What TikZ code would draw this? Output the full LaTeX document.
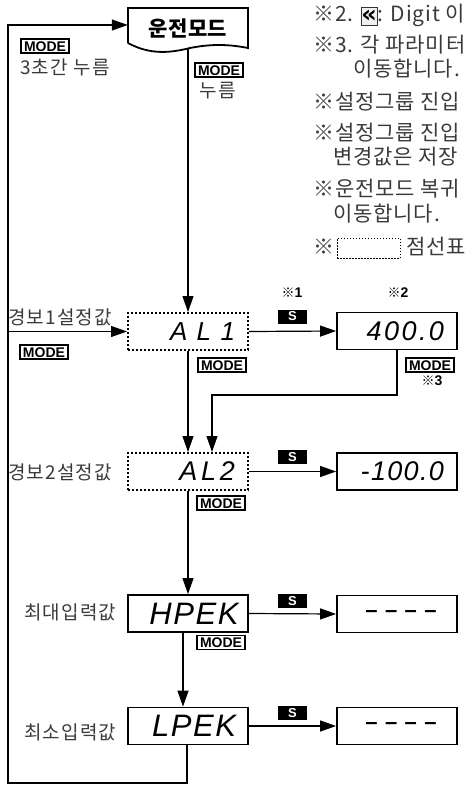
\documentclass[tikz,border=0pt]{standalone}
\usepackage{fontspec}
\usetikzlibrary{arrows.meta}
\newfontfamily\krfont{Noto Sans CJK KR}[LetterSpace=6]
\newfontfamily\krwide{Noto Sans CJK KR}[LetterSpace=4]
\newfontfamily\krbold{Noto Sans CJK KR}[LetterSpace=2]
\newfontfamily\libfont{Liberation Sans}
\newfontfamily\segA{Liberation Sans}[LetterSpace=36]
\newfontfamily\segB{Liberation Sans}[LetterSpace=9]
\newfontfamily\segC{Liberation Sans}[LetterSpace=5]
\newfontfamily\segD{Liberation Sans}[LetterSpace=34]
\newfontfamily\segE{Liberation Sans}[LetterSpace=14]
\newfontfamily\symfont{DejaVu Sans}
\definecolor{txtgray}{HTML}{3A3A3A}
\newcommand{\keyico}{\tikz[baseline=-5pt]\node[draw=black!80,fill=black!6,line width=0.9pt,minimum width=16pt,minimum height=18pt,inner sep=0pt,text=black,font=\symfont\bfseries\fontsize{24}{24}\selectfont] (keyicon) {\raisebox{-1pt}{«}};}
\begin{document}
\begin{tikzpicture}[x=1pt,y=-1pt,
  every node/.style={inner sep=0pt},
  conn/.style={line width=1.2pt,line join=miter},
  arr/.style={conn,-{Triangle[length=16pt,width=11pt]}},
  dispbox/.style={draw,line width=1.8pt,minimum width=120pt,minimum height=37pt},
  dotbox/.style={dispbox,line width=2pt,dash pattern=on 2pt off 2pt},
  rseg/.style={text width=94pt,inner xsep=13pt,align=right},
  modebox/.style={draw,line width=1.1pt,inner xsep=3pt,inner ysep=2pt,text height=10pt,text depth=0pt,
    font=\libfont\bfseries\fontsize{14}{14}\selectfont},
  sbox/.style={fill=black,text=white,minimum width=29pt,minimum height=14pt,
    font=\libfont\bfseries\fontsize{13}{13}\selectfont},
  lbl/.style={font=\krfont\fontsize{19}{22}\selectfont,text=txtgray},
  note/.style={font=\libfont\bfseries\fontsize{14}{14}\selectfont},
  rtxt/.style={font=\krwide\fontsize{21}{24}\selectfont,text=txtgray,anchor=west}]
\useasboundingbox (0,0) rectangle (467,785);

% operation mode box
\node[font=\krbold\bfseries\fontsize{21}{21}\selectfont,minimum width=120pt,minimum height=40pt] (opmode) at (188,28) {운전모드};
\draw[line width=1.8pt,line join=miter] (128,43) -- (128,8) -- (248,8) -- (248,48)
  .. controls (228,44) and (210,44) .. (190,48) .. controls (170,53) and (150,55) .. (128,43);
\node[modebox] (m0) at (45,46) {MODE};
\node[lbl,anchor=west] (t3s) at (20,67) {3초간 누름};
\node[modebox] (m0b) at (219,70) {MODE};
\node[lbl] (tpress) at (218,91) {누름};

% row 1
\node[dotbox,rseg,font=\segA\itshape\fontsize{26}{26}\selectfont] (al1) at (188,331.5) {AL1};
\node[dispbox,rseg,font=\segB\itshape\fontsize{27}{27}\selectfont] (v1) at (397,331) {400.0};
\node[lbl,anchor=west] (l1) at (8,317) {경보1설정값};
\node[modebox] (m1a) at (44,352) {MODE};
\node[modebox] (m1b) at (222,365) {MODE};
\node[modebox] (m1c) at (430,365) {MODE};
\node[sbox] (s1) at (292.5,316.5) {S};
\node[note] (n1) at (292,293) {{\krfont\fontsize{13}{13}\selectfont ※}1};
\node[note] (n2) at (398,293) {{\krfont\fontsize{13}{13}\selectfont ※}2};
\node[note] (n3) at (432,381) {{\krfont\fontsize{13}{13}\selectfont ※}3};

% row 2
\node[dotbox,rseg,font=\segE\itshape\fontsize{27}{27}\selectfont] (al2) at (188,471.5) {AL2};
\node[dispbox,rseg,font=\segC\itshape\fontsize{27}{27}\selectfont] (v2) at (397,471.5) {-100.0};
\node[lbl,anchor=west] (l2) at (8,472) {경보2설정값};
\node[modebox] (m2) at (221,503) {MODE};
\node[sbox] (s2) at (292.5,457) {S};

% row 3
\node[dispbox,font=\segC\itshape\fontsize{31}{31}\selectfont] (hp) at (188,613.5) {\hspace*{12pt}HPEK};
\node[dispbox,font=\segD\bfseries\fontsize{22}{22}\selectfont] (v3) at (397,614) {\hspace*{8pt}––––};
\node[lbl,anchor=west] (l3) at (24,612) {최대입력값};
\node[modebox] (m3) at (221,642.5) {MODE};
\node[sbox] (s3) at (292.5,601) {S};

% row 4
\node[dispbox,font=\segC\itshape\fontsize{31}{31}\selectfont] (lp) at (188,726) {\hspace*{12pt}LPEK};
\node[dispbox,font=\segD\bfseries\fontsize{22}{22}\selectfont] (v4) at (397,726) {\hspace*{8pt}––––};
\node[lbl,anchor=west] (l4) at (24,732) {최소입력값};
\node[sbox] (s4) at (292.5,713) {S};

% connectors
\coordinate (cbot) at (8,783);
\coordinate (ctop) at (8,25);
\coordinate (cmid) at (8,331.5);
\coordinate (cbend) at (212,395);
\draw[arr] ([xshift=-1pt]lp.south) |- (cbot) -- (ctop) -- (opmode.west |- ctop);
\draw[arr] (cmid) -- (al1.west);
\draw[arr] (opmode.south) -- (al1.north);
\draw[arr] (al1.south) -- (al2.north);
\draw[arr] (v1.south) |- (cbend) -- (cbend |- al2.north);
\draw[arr] (al1.east) -- (v1.west);
\draw[arr] (al2.east) -- (v2.west);
\draw[arr] (al2.south) -- (hp.north);
\draw[arr] (hp.east) -- (v3.west);
\draw[arr] ([xshift=-5pt]hp.south) -- ([xshift=-5pt]lp.north);
\draw[arr] (lp.east) -- (v4.west);

% right-hand notes
\node[rtxt] (r1) at (313,15) {※2. \keyico: Digit 이};
\node[rtxt] (r2) at (313,45) {※3. 각 파라미터};
\node[rtxt] (r3) at (353,69) {이동합니다.};
\node[rtxt] (r4) at (313,102) {※설정그룹 진입};
\node[rtxt] (r5) at (313,133) {※설정그룹 진입};
\node[rtxt] (r6) at (333,157) {변경값은 저장};
\node[rtxt] (r7) at (313,189) {※운전모드 복귀};
\node[rtxt] (r8) at (333,214) {이동합니다.};
\node[rtxt] (r9) at (313,247) {※};
\node[draw,line width=1pt,dash pattern=on 1.5pt off 1.5pt,minimum width=63pt,minimum height=20pt] (dbox) at (368.5,248) {};
\node[rtxt,anchor=east] (r10) at (466,247) {점선표};
\end{tikzpicture}
\end{document}
